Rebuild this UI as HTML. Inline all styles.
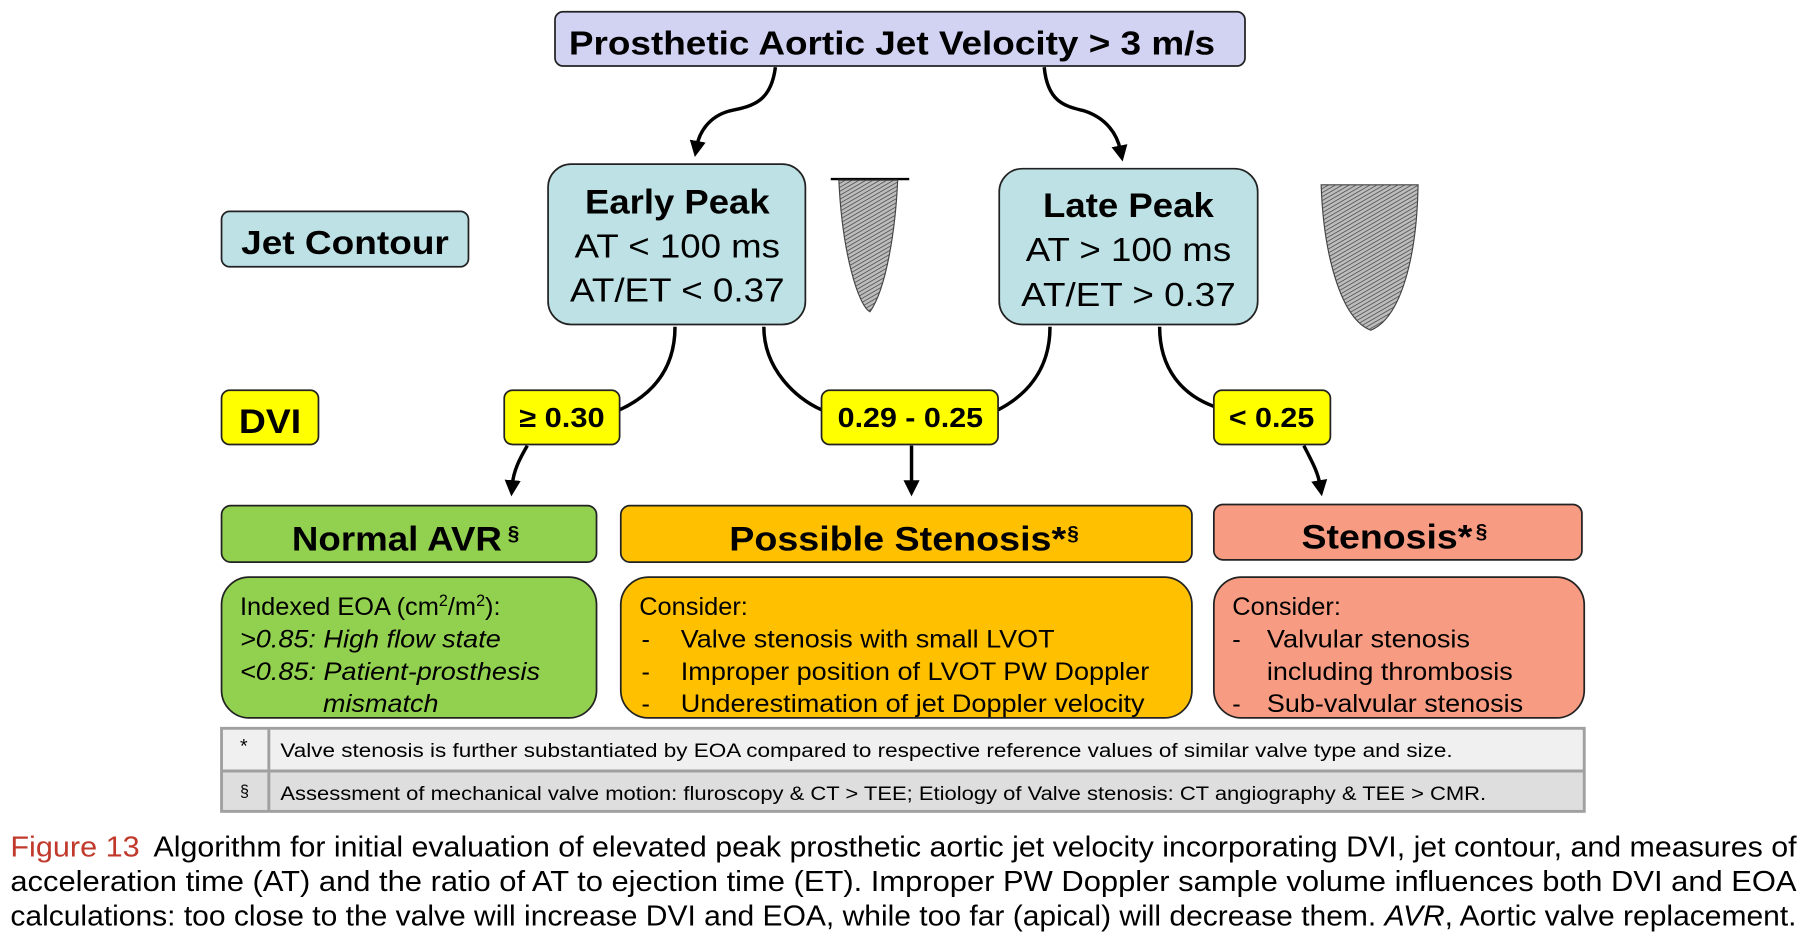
<!DOCTYPE html>
<html><head><meta charset="utf-8"><style>
html,body{margin:0;padding:0;background:#fff;}
svg{display:block;}
text{font-family:"Liberation Sans",sans-serif;}
</style></head><body>
<svg width="1800" height="942" viewBox="0 0 1560 816" xmlns="http://www.w3.org/2000/svg">
<defs>
<pattern id="h" width="3" height="3" patternUnits="userSpaceOnUse" patternTransform="rotate(60)">
<rect width="3" height="3" fill="#bdbdbd"/><line x1="0" y1="0" x2="0" y2="3" stroke="#444" stroke-width="1.3"/>
</pattern>
<marker id="a" markerWidth="16" markerHeight="16" refX="4" refY="8" orient="auto" markerUnits="userSpaceOnUse"><path d="M0,1 L14,8 L0,15 z" fill="#000"/></marker>
</defs>
<g stroke="#000" stroke-width="3" fill="none">
<path d="M672,58 C668,90 650,92 632,96 C614,101 606,115 604,126" marker-end="url(#a)"/>
<path d="M905,58 C908,90 925,92 940,96 C958,102 968,115 971,130" marker-end="url(#a)"/>
<path d="M585,283 C585,320 565,342 537,355"/>
<path d="M662,283 C662,320 690,345 712,355"/>
<path d="M910,283 C910,320 890,342 865,355"/>
<path d="M1005,283 C1005,320 1025,342 1052,352"/>
<path d="M457,386 C450,398 445,408 444,420" marker-end="url(#a)"/>
<path d="M790,386 L790,420" marker-end="url(#a)"/>
<path d="M1130,386 C1136,398 1142,408 1144,420" marker-end="url(#a)"/>
</g>
<rect x="481" y="10" width="598" height="47" rx="7" fill="#d2d2f2" stroke="#222" stroke-width="1.5"/>
<text x="773" y="47" text-anchor="middle" font-size="29" font-weight="bold" textLength="560" lengthAdjust="spacingAndGlyphs">Prosthetic Aortic Jet Velocity &gt; 3 m/s</text>
<rect x="192" y="183" width="214" height="48" rx="7" fill="#bde1e4" stroke="#222" stroke-width="1.5"/>
<text x="299" y="220" text-anchor="middle" font-size="29" font-weight="bold" textLength="180" lengthAdjust="spacingAndGlyphs">Jet Contour</text>
<rect x="475" y="142" width="223" height="139" rx="20" fill="#bde1e4" stroke="#222" stroke-width="1.5"/>
<text x="587" y="185" text-anchor="middle" font-size="30" font-weight="bold" textLength="160" lengthAdjust="spacingAndGlyphs">Early Peak</text>
<text x="587" y="223" text-anchor="middle" font-size="29" textLength="178" lengthAdjust="spacingAndGlyphs">AT &lt; 100 ms</text>
<text x="587" y="261" text-anchor="middle" font-size="29" textLength="186" lengthAdjust="spacingAndGlyphs">AT/ET &lt; 0.37</text>
<rect x="866" y="146" width="224" height="135" rx="20" fill="#bde1e4" stroke="#222" stroke-width="1.5"/>
<text x="978" y="188" text-anchor="middle" font-size="30" font-weight="bold" textLength="148" lengthAdjust="spacingAndGlyphs">Late Peak</text>
<text x="978" y="226" text-anchor="middle" font-size="29" textLength="178" lengthAdjust="spacingAndGlyphs">AT &gt; 100 ms</text>
<text x="978" y="265" text-anchor="middle" font-size="29" textLength="186" lengthAdjust="spacingAndGlyphs">AT/ET &gt; 0.37</text>
<line x1="720" y1="155" x2="788" y2="155" stroke="#000" stroke-width="2"/>
<path d="M727,156 L778,156 C776,200 768,250 754,270 C744,265 730,220 727,156 z" fill="url(#h)" stroke="#444" stroke-width="1"/>
<path d="M1145,160 L1229,160 C1228,220 1215,275 1188,286 C1162,276 1147,220 1145,160 z" fill="url(#h)" stroke="#444" stroke-width="1"/>
<g stroke="#222" stroke-width="1.5" fill="#ffff00">
<rect x="192" y="338" width="84" height="47" rx="7"/>
<rect x="437" y="338" width="100" height="47" rx="7"/>
<rect x="712" y="338" width="153" height="47" rx="7"/>
<rect x="1052" y="338" width="101" height="47" rx="7"/>
</g>
<g font-weight="bold" text-anchor="middle">
<text x="234" y="375" font-size="30" textLength="54" lengthAdjust="spacingAndGlyphs">DVI</text>
<text x="487" y="370" font-size="24" textLength="74" lengthAdjust="spacingAndGlyphs">≥ 0.30</text>
<text x="789" y="370" font-size="24" textLength="126" lengthAdjust="spacingAndGlyphs">0.29 - 0.25</text>
<text x="1102" y="370" font-size="24" textLength="74" lengthAdjust="spacingAndGlyphs">&lt; 0.25</text>
</g>
<rect x="192" y="438" width="325" height="49" rx="8" fill="#92d050" stroke="#222" stroke-width="1.5"/>
<rect x="538" y="438" width="495" height="49" rx="8" fill="#ffc000" stroke="#222" stroke-width="1.5"/>
<rect x="1052" y="437" width="319" height="48" rx="8" fill="#f79c82" stroke="#222" stroke-width="1.5"/>
<text x="253" y="477" font-size="30" font-weight="bold" textLength="182" lengthAdjust="spacingAndGlyphs">Normal AVR</text>
<text x="440" y="468" font-size="18" font-weight="bold">§</text>
<text x="632" y="477" font-size="30" font-weight="bold" textLength="292" lengthAdjust="spacingAndGlyphs">Possible Stenosis*</text>
<text x="925" y="468" font-size="18" font-weight="bold">§</text>
<text x="1128" y="475" font-size="30" font-weight="bold" textLength="148" lengthAdjust="spacingAndGlyphs">Stenosis*</text>
<text x="1279" y="466" font-size="18" font-weight="bold">§</text>
<rect x="192" y="500" width="325" height="122" rx="24" fill="#92d050" stroke="#222" stroke-width="1.5"/>
<rect x="538" y="500" width="495" height="122" rx="24" fill="#ffc000" stroke="#222" stroke-width="1.5"/>
<rect x="1052" y="500" width="321" height="122" rx="24" fill="#f79c82" stroke="#222" stroke-width="1.5"/>
<g font-size="22">
<text x="208" y="533">Indexed EOA (cm<tspan font-size="14" dy="-8">2</tspan><tspan dy="8">/m</tspan><tspan font-size="14" dy="-8">2</tspan><tspan dy="8">):</tspan></text>
<text x="208" y="561" font-style="italic" textLength="226" lengthAdjust="spacingAndGlyphs">&gt;0.85: High flow state</text>
<text x="208" y="589" font-style="italic" textLength="260" lengthAdjust="spacingAndGlyphs">&lt;0.85: Patient-prosthesis</text>
<text x="280" y="617" font-style="italic" textLength="100" lengthAdjust="spacingAndGlyphs">mismatch</text>
<text x="554" y="533">Consider:</text>
<text x="556" y="561">-</text><text x="590" y="561" textLength="324" lengthAdjust="spacingAndGlyphs">Valve stenosis with small LVOT</text>
<text x="556" y="589">-</text><text x="590" y="589" textLength="406" lengthAdjust="spacingAndGlyphs">Improper position of LVOT PW Doppler</text>
<text x="556" y="617">-</text><text x="590" y="617" textLength="402" lengthAdjust="spacingAndGlyphs">Underestimation of jet Doppler velocity</text>
<text x="1068" y="533">Consider:</text>
<text x="1068" y="561">-</text><text x="1098" y="561" textLength="176" lengthAdjust="spacingAndGlyphs">Valvular stenosis</text>
<text x="1098" y="589" textLength="213" lengthAdjust="spacingAndGlyphs">including thrombosis</text>
<text x="1068" y="617">-</text><text x="1098" y="617" textLength="222" lengthAdjust="spacingAndGlyphs">Sub-valvular stenosis</text>
</g>
<rect x="192" y="631" width="1181" height="37" fill="#f0f0f0"/>
<rect x="192" y="668" width="1181" height="35" fill="#dedede"/>
<g stroke="#a0a0a0" stroke-width="2.5" fill="none">
<rect x="192" y="631" width="1181" height="72"/>
<line x1="192" y1="668" x2="1373" y2="668"/>
<line x1="233" y1="631" x2="233" y2="703"/>
</g>
<g font-size="17">
<text x="208" y="652">*</text>
<text x="243" y="656" textLength="1016" lengthAdjust="spacingAndGlyphs">Valve stenosis is further substantiated  by EOA compared to respective reference values of similar valve type and size.</text>
<text x="208" y="690" font-size="14">§</text>
<text x="243" y="693" textLength="1045" lengthAdjust="spacingAndGlyphs">Assessment of mechanical valve motion: fluroscopy &amp; CT &gt; TEE; Etiology of Valve stenosis:  CT angiography &amp; TEE &gt; CMR.</text>
</g>
<g font-size="25">
<text x="9" y="742" fill="#c0392b" textLength="112" lengthAdjust="spacingAndGlyphs">Figure 13</text>
<text x="133" y="742" textLength="1424" lengthAdjust="spacingAndGlyphs">Algorithm for initial evaluation of elevated peak prosthetic aortic jet velocity incorporating DVI, jet contour, and measures of</text>
<text x="9" y="772" textLength="1548" lengthAdjust="spacingAndGlyphs">acceleration time (AT) and the ratio of AT to ejection time (ET). Improper PW Doppler sample volume influences both DVI and EOA</text>
<text x="9" y="802" textLength="1548" lengthAdjust="spacingAndGlyphs">calculations: too close to the valve will increase DVI and EOA, while too far (apical) will decrease them. <tspan font-style="italic">AVR</tspan>, Aortic valve replacement.</text>
</g>
</svg>
</body></html>
